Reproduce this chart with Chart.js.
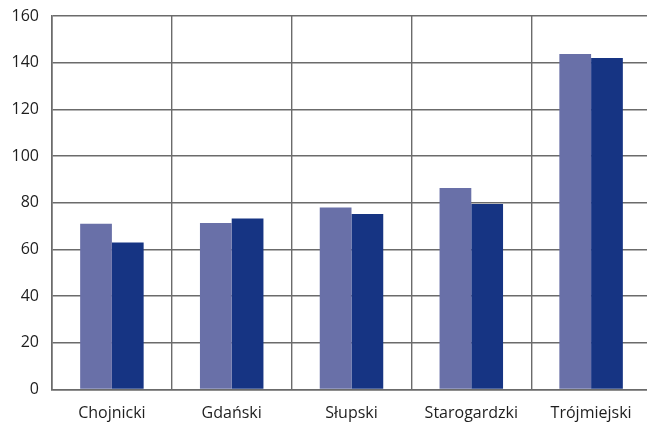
<!DOCTYPE html>
<html>
<head>
<meta charset="utf-8">
<script src="https://cdn.jsdelivr.net/npm/chart.js@4/dist/chart.umd.min.js"></script>
<style>
  html, body { margin: 0; padding: 0; background: #fff; overflow: hidden; }
  #wrap { width: 651px; height: 423px; }
</style>
</head>
<body>
<div id="wrap"><canvas id="chart" width="651" height="423"></canvas></div>
<script>
// dane
const powiaty = ['Chojnicki', 'Gdański', 'Słupski', 'Starogardzki', 'Trójmiejski'];
const seria1 = [71, 71.3, 78, 86.3, 143.7];
const seria2 = [63, 73.3, 75.2, 79.5, 142];
const yTicks = [0, 20, 40, 60, 80, 100, 120, 140, 160];

const gridColor = '#6b6b6b';
const fontStack = '"Open Sans", "Noto Sans", sans-serif';

new Chart(document.getElementById('chart'), {
    type: 'bar',
    data: {
        labels: powiaty,
        datasets: [
            { label: 'A', data: seria1, backgroundColor: '#6970a8', borderWidth: 0 },
            { label: 'B', data: seria2, backgroundColor: '#163483', borderWidth: 0 }
        ]
    },
    options: {
        responsive: false,
        animation: false,
        layout: { padding: { top: 0, right: 0, left: 0, bottom: 0 } },
        plugins: { legend: { display: false }, tooltip: { enabled: false } },
        datasets: { bar: { categoryPercentage: 0.53, barPercentage: 1 } },
        scales: {
            x: {
                grid: { color: gridColor, lineWidth: 1.4, drawTicks: false, offset: true },
                border: { color: gridColor, width: 1.6 },
                ticks: { color: '#1e1e1e', font: { family: fontStack, size: 16 }, padding: 14 },
                afterFit: s => { s.height = 33.5; }
            },
            y: {
                min: 0, max: 160,
                afterBuildTicks: s => { s.ticks = yTicks.map(v => ({ value: v })); },
                grid: { color: gridColor, lineWidth: 1.4, drawTicks: false },
                border: { color: gridColor, width: 1.6 },
                ticks: { color: '#1e1e1e', font: { family: fontStack, size: 16 }, padding: 13 },
                afterFit: s => { s.width = 52; s.paddingTop = 16; }
            }
        }
    }
});
</script>
</body>
</html>
